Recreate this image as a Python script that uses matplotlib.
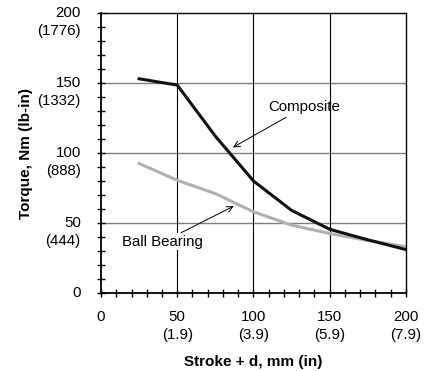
import matplotlib
matplotlib.use("Agg")
import matplotlib.pyplot as plt
import matplotlib.transforms as mtransforms
from matplotlib.ticker import MultipleLocator

plt.rcParams['font.family'] = ['Liberation Sans', 'DejaVu Sans']

# Data
stroke = [25, 50, 75, 100, 125, 150, 175, 200]
composite = [153, 148.5, 112, 80, 59, 45.5, 38, 31]
ball_bearing = [92.5, 80.5, 71, 58, 48.5, 42.5, 37.5, 33]

x_ticks = [0, 50, 100, 150, 200]
x_labels = ['0', '50\n(1.9)', '100\n(3.9)', '150\n(5.9)', '200\n(7.9)']
y_ticks = [0, 50, 100, 150, 200]
y_labels = ['0', '50\n(444)', '100\n(888)', '150\n(1332)', '200\n(1776)']

fig = plt.figure(figsize=(4.32, 3.71), dpi=100)
ax = fig.add_axes([0.2338, 0.2102, 0.7060, 0.7548])

# grid
for v in [50, 100, 150]:
    ax.axhline(v, color='#7f7f7f', lw=1.0, zorder=1)
for v in [50, 100, 150]:
    ax.axvline(v, color='black', lw=0.8, zorder=1)

ax.plot(stroke, ball_bearing, color='#b0b0b0', lw=2.2, zorder=2)
ax.plot(stroke, composite, color='#111111', lw=2.2, zorder=3)

ax.set_xlim(0, 200)
ax.set_ylim(0, 200)

for s in ax.spines.values():
    s.set_linewidth(1.0)
ax.spines['bottom'].set_linewidth(1.3)
ax.spines['left'].set_linewidth(1.3)

ax.set_xticks(x_ticks)
ax.set_xticklabels(x_labels, fontsize=10.8, linespacing=1.35)
ax.set_yticks(y_ticks)
ax.set_yticklabels(y_labels, fontsize=10.8, linespacing=1.35, ha='right')
ax.xaxis.set_minor_locator(MultipleLocator(10))
ax.yaxis.set_minor_locator(MultipleLocator(10))
ax.tick_params(which='both', direction='inout', length=6, width=1.0)
ax.tick_params(axis='x', which='major', pad=9)
ax.tick_params(axis='y', which='major', pad=11.5)

# first line of each tick label sits on the tick
off_y = mtransforms.ScaledTranslation(0, 7 / 100, fig.dpi_scale_trans)
for lbl in ax.get_yticklabels():
    lbl.set_va('top')
    lbl.set_transform(lbl.get_transform() + off_y)

ax.set_xlabel('Stroke + d, mm (in)', fontsize=11, fontweight='bold', labelpad=10)
ax.set_ylabel('Torque, Nm (lb-in)', fontsize=11, fontweight='bold', labelpad=3)

ax.annotate('Composite', xy=(86.5, 104), xytext=(110, 133),
            fontsize=10.8, va='center', ha='left',
            arrowprops=dict(arrowstyle='->', color='black', lw=0.7,
                            shrinkA=1, shrinkB=0))
ax.annotate('Ball Bearing', xy=(87, 62), xytext=(14, 36.5),
            fontsize=10.8, va='center', ha='left',
            bbox=dict(boxstyle='square,pad=0.1', fc='white', ec='none'),
            arrowprops=dict(arrowstyle='->', color='black', lw=0.7,
                            shrinkA=1, shrinkB=0))

fig.savefig('out.png', dpi=100)
